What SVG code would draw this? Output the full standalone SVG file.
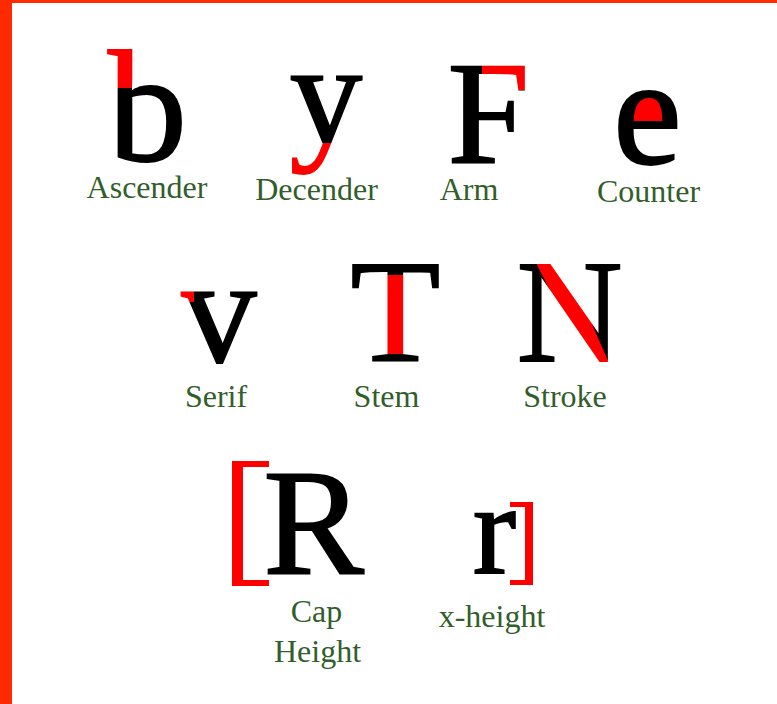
<svg xmlns="http://www.w3.org/2000/svg" width="777" height="704" viewBox="0 0 777 704">
<style>
.glyph{font-family:"Liberation Serif","Times New Roman",serif;text-anchor:middle;fill:#000;stroke:#000;stroke-width:1.8;stroke-linejoin:miter}
.lbl{font-family:"Liberation Serif","Times New Roman",serif;font-size:32px;text-anchor:middle;fill:#315e2a}
.hl{fill:#ff0000}
</style>
<defs>
<pattern id="p-b" patternUnits="userSpaceOnUse" x="0" y="0" width="777" height="704"><rect width="777" height="704" fill="#000"/><rect x="90" y="0" width="48" height="88" fill="#ff0000"/></pattern>
<pattern id="p-y" patternUnits="userSpaceOnUse" x="0" y="0" width="777" height="704"><rect width="777" height="704" fill="#000"/><rect x="0" y="143" width="777" height="100" fill="#ff0000"/></pattern>
<pattern id="p-F" patternUnits="userSpaceOnUse" x="0" y="0" width="777" height="704"><rect width="777" height="704" fill="#000"/><rect x="482" y="0" width="100" height="90" fill="#ff0000"/></pattern>
<pattern id="p-v" patternUnits="userSpaceOnUse" x="0" y="0" width="777" height="704"><rect width="777" height="704" fill="#000"/><rect x="150" y="250" width="44" height="52" fill="#ff0000"/></pattern>
<pattern id="p-T" patternUnits="userSpaceOnUse" x="0" y="0" width="777" height="704"><rect width="777" height="704" fill="#000"/><rect x="380" y="275" width="31" height="79" fill="#ff0000"/></pattern>
<pattern id="p-N" patternUnits="userSpaceOnUse" x="0" y="0" width="777" height="704"><rect width="777" height="704" fill="#000"/><polygon points="532,255 562,255 612,370 590,370" fill="#ff0000"/></pattern>
</defs>
<rect width="777" height="704" fill="#fff"/>
<g id="border"><rect x="0" y="0" width="12" height="704" fill="#ff2a00"/><rect x="0" y="0" width="777" height="3" fill="#ff2a00"/></g>
<g id="ascender"><text class="glyph" x="147.5" y="160" font-size="158" style="fill:url(#p-b);stroke:url(#p-b)">b</text><text class="lbl" x="147" y="198">Ascender</text></g>
<g id="decender"><text class="glyph" x="326" y="143" font-size="145" style="fill:url(#p-y);stroke:url(#p-y)">y</text><text class="lbl" x="316.5" y="200">Decender</text></g>
<g id="arm"><text class="glyph" x="488.5" y="162" font-size="147" style="fill:url(#p-F);stroke:url(#p-F)">F</text><text class="lbl" x="469" y="200">Arm</text></g>
<g id="counter"><path class="hl" d="M626,121 A22,24 0 0 1 670,121 Z"/><text class="glyph" x="647.5" y="163" font-size="155">e</text><text class="lbl" x="648.5" y="202">Counter</text></g>
<g id="serif"><text class="glyph" x="219" y="362" font-size="150" style="fill:url(#p-v);stroke:url(#p-v)">v</text><text class="lbl" x="216" y="407">Serif</text></g>
<g id="stem"><text class="glyph" x="395.5" y="361" font-size="147" style="fill:url(#p-T);stroke:url(#p-T)">T</text><text class="lbl" x="386.5" y="407">Stem</text></g>
<g id="stroke"><text class="glyph" x="569.5" y="361" font-size="147" style="fill:url(#p-N);stroke:url(#p-N)">N</text><text class="lbl" x="565" y="407">Stroke</text></g>
<g id="cap-height"><polygon class="hl" points="232,461 269,461 269,467 243,467 243,580 269,580 269,586 232,586"/><text class="glyph" x="313.5" y="573" font-size="151">R</text><text class="lbl" x="316.5" y="622">Cap</text><text class="lbl" x="317.5" y="662">Height</text></g>
<g id="x-height"><polygon class="hl" points="510,502 533,502 533,585 510,585 510,580 525,580 525,507 510,507"/><text class="glyph" x="494.5" y="573" font-size="130">r</text><text class="lbl" x="492" y="627">x-height</text></g>
</svg>
